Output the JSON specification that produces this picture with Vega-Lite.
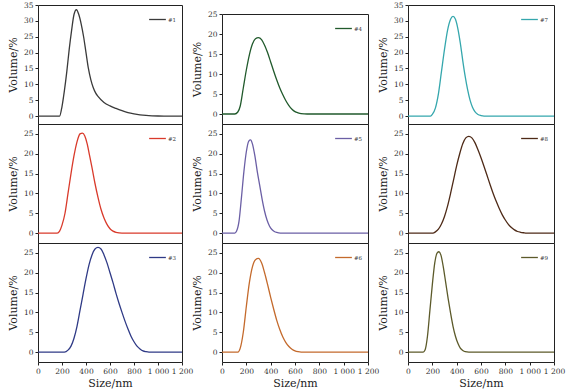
{
  "$schema": "https://vega.github.io/schema/vega-lite/v6.json",
  "padding": {"left": 6, "top": 0, "right": 5, "bottom": 2},
  "background": "white",
  "config": {
    "view": {"stroke": "#222", "strokeWidth": 1},
    "axis": {"domain": false, "grid": false, "tickColor": "#222", "tickSize": 3, "labelFont": "DejaVu Serif", "labelFontSize": 7.5, "labelColor": "#333", "titleFont": "DejaVu Serif", "titleFontSize": 11, "titleFontWeight": "normal", "titleColor": "#222", "labelPadding": 2},
    "axisY": {"titlePadding": 5},
    "axisX": {"titlePadding": 3, "labelOverlap": false, "labelFlush": false},
    "legend": {"orient": "top-right", "offset": 5, "title": null, "symbolType": "stroke", "symbolSize": 280, "symbolStrokeWidth": 1.5, "labelFontSize": 5.5, "labelFont": "DejaVu Serif", "labelColor": "#333", "padding": 0, "labelOffset": 1},
    "line": {"interpolate": "monotone", "strokeWidth": 1.3}
  },
  "datasets": {
    "d1": [{"s":0,"v":0},{"s":180,"v":0},{"s":200,"v":3},{"s":220,"v":8},{"s":240,"v":14},{"s":260,"v":21},{"s":280,"v":27},{"s":300,"v":32},{"s":320,"v":33.5},{"s":340,"v":32},{"s":360,"v":29},{"s":380,"v":25},{"s":400,"v":20},{"s":420,"v":15},{"s":440,"v":11.5},{"s":460,"v":9},{"s":480,"v":7.3},{"s":500,"v":6.2},{"s":550,"v":4.3},{"s":600,"v":3.2},{"s":650,"v":2.4},{"s":700,"v":1.7},{"s":750,"v":1.1},{"s":800,"v":0.7},{"s":850,"v":0.4},{"s":900,"v":0.2},{"s":950,"v":0.08},{"s":1000,"v":0.02},{"s":1050,"v":0},{"s":1200,"v":0}],
    "d2": [{"s":0,"v":0},{"s":160,"v":0},{"s":180,"v":0.5},{"s":200,"v":2},{"s":225,"v":5},{"s":250,"v":10},{"s":275,"v":15},{"s":300,"v":19.5},{"s":325,"v":23},{"s":350,"v":25},{"s":370,"v":25.2},{"s":390,"v":24.5},{"s":410,"v":22.5},{"s":430,"v":19.5},{"s":450,"v":16.5},{"s":475,"v":12.5},{"s":500,"v":9},{"s":525,"v":6},{"s":550,"v":3.8},{"s":575,"v":2.2},{"s":600,"v":1.1},{"s":625,"v":0.5},{"s":650,"v":0.2},{"s":700,"v":0},{"s":1200,"v":0}],
    "d3": [{"s":0,"v":0},{"s":220,"v":0},{"s":250,"v":0.5},{"s":275,"v":1.5},{"s":300,"v":3.5},{"s":325,"v":6.5},{"s":350,"v":10.5},{"s":375,"v":14.5},{"s":400,"v":18.5},{"s":425,"v":22},{"s":450,"v":24.5},{"s":475,"v":26},{"s":500,"v":26.4},{"s":525,"v":26},{"s":550,"v":24.5},{"s":575,"v":22.5},{"s":600,"v":20},{"s":625,"v":17.5},{"s":650,"v":14.8},{"s":675,"v":12.3},{"s":700,"v":10},{"s":725,"v":7.8},{"s":750,"v":5.8},{"s":775,"v":4},{"s":800,"v":2.6},{"s":825,"v":1.5},{"s":850,"v":0.8},{"s":875,"v":0.3},{"s":900,"v":0.1},{"s":925,"v":0},{"s":1200,"v":0}],
    "d4": [{"s":0,"v":0},{"s":105,"v":0},{"s":130,"v":0.5},{"s":150,"v":2},{"s":175,"v":6.5},{"s":200,"v":11},{"s":225,"v":14.8},{"s":250,"v":17.5},{"s":275,"v":18.8},{"s":300,"v":19.1},{"s":325,"v":18.6},{"s":350,"v":17.2},{"s":375,"v":15.3},{"s":400,"v":13},{"s":425,"v":10.7},{"s":450,"v":8.5},{"s":475,"v":6.5},{"s":500,"v":4.8},{"s":525,"v":3.3},{"s":550,"v":2.1},{"s":575,"v":1.2},{"s":600,"v":0.6},{"s":625,"v":0.3},{"s":650,"v":0.1},{"s":700,"v":0},{"s":1200,"v":0}],
    "d5": [{"s":0,"v":0},{"s":105,"v":0},{"s":120,"v":0.5},{"s":140,"v":3},{"s":160,"v":9},{"s":180,"v":15.5},{"s":200,"v":20.5},{"s":220,"v":23.2},{"s":235,"v":23.5},{"s":250,"v":22.5},{"s":270,"v":19.5},{"s":290,"v":15.5},{"s":310,"v":12},{"s":330,"v":8.5},{"s":350,"v":5.5},{"s":370,"v":3.3},{"s":390,"v":1.8},{"s":410,"v":0.9},{"s":430,"v":0.4},{"s":450,"v":0.15},{"s":480,"v":0},{"s":1200,"v":0}],
    "d6": [{"s":0,"v":0},{"s":130,"v":0},{"s":150,"v":1},{"s":175,"v":5},{"s":200,"v":11.5},{"s":225,"v":17.5},{"s":250,"v":21.5},{"s":275,"v":23.3},{"s":300,"v":23.6},{"s":325,"v":22.5},{"s":350,"v":20},{"s":375,"v":17},{"s":400,"v":13.8},{"s":425,"v":10.8},{"s":450,"v":8},{"s":475,"v":5.7},{"s":500,"v":3.8},{"s":525,"v":2.4},{"s":550,"v":1.4},{"s":575,"v":0.7},{"s":600,"v":0.3},{"s":625,"v":0.1},{"s":650,"v":0},{"s":1200,"v":0}],
    "d7": [{"s":0,"v":0},{"s":185,"v":0},{"s":200,"v":0.5},{"s":225,"v":2.5},{"s":250,"v":7},{"s":275,"v":14},{"s":300,"v":21},{"s":325,"v":27},{"s":350,"v":30.5},{"s":370,"v":31.4},{"s":390,"v":30.5},{"s":410,"v":27.5},{"s":430,"v":23},{"s":450,"v":17.5},{"s":470,"v":12.5},{"s":490,"v":8.3},{"s":510,"v":5},{"s":530,"v":2.8},{"s":550,"v":1.4},{"s":575,"v":0.5},{"s":600,"v":0.15},{"s":625,"v":0},{"s":1200,"v":0}],
    "d8": [{"s":0,"v":0},{"s":205,"v":0},{"s":225,"v":0.3},{"s":250,"v":1},{"s":275,"v":2.3},{"s":300,"v":4.2},{"s":325,"v":6.8},{"s":350,"v":10},{"s":375,"v":13.5},{"s":400,"v":17},{"s":425,"v":20},{"s":450,"v":22.5},{"s":475,"v":24},{"s":500,"v":24.4},{"s":525,"v":24},{"s":550,"v":22.8},{"s":575,"v":21},{"s":600,"v":19},{"s":625,"v":16.8},{"s":650,"v":14.5},{"s":675,"v":12.2},{"s":700,"v":10},{"s":725,"v":8},{"s":750,"v":6.2},{"s":775,"v":4.6},{"s":800,"v":3.3},{"s":825,"v":2.2},{"s":850,"v":1.4},{"s":875,"v":0.8},{"s":900,"v":0.4},{"s":925,"v":0.2},{"s":950,"v":0.08},{"s":975,"v":0},{"s":1200,"v":0}],
    "d9": [{"s":0,"v":0},{"s":125,"v":0},{"s":140,"v":0.5},{"s":160,"v":4},{"s":180,"v":10.5},{"s":200,"v":17},{"s":220,"v":22.5},{"s":240,"v":25},{"s":255,"v":25.3},{"s":270,"v":24.5},{"s":290,"v":21.5},{"s":310,"v":17.5},{"s":330,"v":13.5},{"s":350,"v":9.8},{"s":370,"v":6.5},{"s":390,"v":4},{"s":410,"v":2.2},{"s":430,"v":1},{"s":450,"v":0.4},{"s":470,"v":0.1},{"s":500,"v":0},{"s":1200,"v":0}]
  },
  "spacing": -4,
  "resolve": {"scale": {"color": "independent"}, "legend": {"color": "independent"}},
  "hconcat": [
    {
      "spacing": 0, "bounds": "flush",
      "resolve": {"scale": {"color": "independent"}, "legend": {"color": "independent"}},
      "vconcat": [
        {"width": 144, "height": 119, "data": {"name": "d1"}, "mark": "line",
         "encoding": {"x": {"field": "s", "type": "quantitative", "scale": {"domain": [0, 1200], "nice": false}, "axis": null},
                      "y": {"field": "v", "type": "quantitative", "scale": {"domain": [-2.5, 35], "nice": false, "zero": false}, "axis": {"title": "Volume/%", "values": [0,5,10,15,20,25,30,35]}},
                      "color": {"datum": "#1", "scale": {"domain": ["#1"], "range": ["#3a3a3a"]}}}},
        {"width": 144, "height": 119, "data": {"name": "d2"}, "mark": "line",
         "encoding": {"x": {"field": "s", "type": "quantitative", "scale": {"domain": [0, 1200], "nice": false}, "axis": null},
                      "y": {"field": "v", "type": "quantitative", "scale": {"domain": [-2.5, 27.5], "nice": false, "zero": false}, "axis": {"title": "Volume/%", "values": [0,5,10,15,20,25]}},
                      "color": {"datum": "#2", "scale": {"domain": ["#2"], "range": ["#d93a2b"]}}}},
        {"width": 144, "height": 119, "data": {"name": "d3"}, "mark": "line",
         "encoding": {"x": {"field": "s", "type": "quantitative", "scale": {"domain": [0, 1200], "nice": false}, "axis": {"title": "Size/nm", "values": [0,200,400,600,800,1000,1200], "labelExpr": "replace(format(datum.value, ','), ',', ' ')"}},
                      "y": {"field": "v", "type": "quantitative", "scale": {"domain": [-2.5, 27.5], "nice": false, "zero": false}, "axis": {"title": "Volume/%", "values": [0,5,10,15,20,25]}},
                      "color": {"datum": "#3", "scale": {"domain": ["#3"], "range": ["#2f3a86"]}}}}
      ]
    },
    {
      "spacing": 0, "bounds": "flush",
      "resolve": {"scale": {"color": "independent"}, "legend": {"color": "independent"}},
      "vconcat": [
        {"width": 146, "height": 9, "data": {"values": []}, "mark": "point", "view": {"stroke": null}, "encoding": {}},
        {"width": 146, "height": 110, "data": {"name": "d4"}, "mark": "line",
         "encoding": {"x": {"field": "s", "type": "quantitative", "scale": {"domain": [0, 1200], "nice": false}, "axis": null},
                      "y": {"field": "v", "type": "quantitative", "scale": {"domain": [-2.5, 25], "nice": false, "zero": false}, "axis": {"title": "Volume/%", "values": [0,5,10,15,20,25]}},
                      "color": {"datum": "#4", "scale": {"domain": ["#4"], "range": ["#215a2c"]}}}},
        {"width": 146, "height": 119, "data": {"name": "d5"}, "mark": "line",
         "encoding": {"x": {"field": "s", "type": "quantitative", "scale": {"domain": [0, 1200], "nice": false}, "axis": null},
                      "y": {"field": "v", "type": "quantitative", "scale": {"domain": [-2.5, 27.5], "nice": false, "zero": false}, "axis": {"title": "Volume/%", "values": [0,5,10,15,20,25]}},
                      "color": {"datum": "#5", "scale": {"domain": ["#5"], "range": ["#6b5fa5"]}}}},
        {"width": 146, "height": 119, "data": {"name": "d6"}, "mark": "line",
         "encoding": {"x": {"field": "s", "type": "quantitative", "scale": {"domain": [0, 1200], "nice": false}, "axis": {"title": "Size/nm", "values": [0,200,400,600,800,1000,1200], "labelExpr": "replace(format(datum.value, ','), ',', ' ')"}},
                      "y": {"field": "v", "type": "quantitative", "scale": {"domain": [-2.5, 27.5], "nice": false, "zero": false}, "axis": {"title": "Volume/%", "values": [0,5,10,15,20,25]}},
                      "color": {"datum": "#6", "scale": {"domain": ["#6"], "range": ["#c46a2c"]}}}}
      ]
    },
    {
      "spacing": 0, "bounds": "flush",
      "resolve": {"scale": {"color": "independent"}, "legend": {"color": "independent"}},
      "vconcat": [
        {"width": 146, "height": 119, "data": {"name": "d7"}, "mark": "line",
         "encoding": {"x": {"field": "s", "type": "quantitative", "scale": {"domain": [0, 1200], "nice": false}, "axis": null},
                      "y": {"field": "v", "type": "quantitative", "scale": {"domain": [-2.5, 35], "nice": false, "zero": false}, "axis": {"title": "Volume/%", "values": [0,5,10,15,20,25,30,35]}},
                      "color": {"datum": "#7", "scale": {"domain": ["#7"], "range": ["#35a7ad"]}}}},
        {"width": 146, "height": 119, "data": {"name": "d8"}, "mark": "line",
         "encoding": {"x": {"field": "s", "type": "quantitative", "scale": {"domain": [0, 1200], "nice": false}, "axis": null},
                      "y": {"field": "v", "type": "quantitative", "scale": {"domain": [-2.5, 27.5], "nice": false, "zero": false}, "axis": {"title": "Volume/%", "values": [0,5,10,15,20,25]}},
                      "color": {"datum": "#8", "scale": {"domain": ["#8"], "range": ["#4e2a17"]}}}},
        {"width": 146, "height": 119, "data": {"name": "d9"}, "mark": "line",
         "encoding": {"x": {"field": "s", "type": "quantitative", "scale": {"domain": [0, 1200], "nice": false}, "axis": {"title": "Size/nm", "values": [0,200,400,600,800,1000,1200], "labelExpr": "replace(format(datum.value, ','), ',', ' ')"}},
                      "y": {"field": "v", "type": "quantitative", "scale": {"domain": [-2.5, 27.5], "nice": false, "zero": false}, "axis": {"title": "Volume/%", "values": [0,5,10,15,20,25]}},
                      "color": {"datum": "#9", "scale": {"domain": ["#9"], "range": ["#5c5a2a"]}}}}
      ]
    }
  ]
}
